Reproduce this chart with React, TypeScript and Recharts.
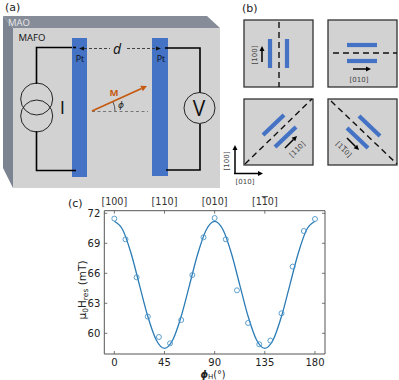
import { ComposedChart, Line, XAxis, YAxis, Label } from 'recharts'

const measuredPhi = [0, 10, 20, 30, 40, 50, 60, 70, 80, 90, 100, 110, 120, 130, 140, 150, 160, 170, 180]
const measuredField = [71.47, 69.4, 65.6, 61.67, 59.63, 59.0, 61.33, 65.83, 69.6, 71.53, 69.4, 64.3, 61.03, 58.9, 59.27, 62.0, 66.67, 70.23, 71.43]

// fit curve
const fitPhi = [0, 7.5, 15, 22.5, 30, 37.5, 45, 52.5, 60, 67.5, 75, 82.5, 90, 97.5, 105, 112.5, 120, 127.5, 135, 142.5, 150, 157.5, 165, 172.5, 180]
const fitField = [71.2, 70.35, 68.0, 64.85, 61.7, 59.35, 58.5, 59.35, 61.7, 64.85, 68.0, 70.35, 71.2, 70.35, 68.0, 64.85, 61.7, 59.35, 58.5, 59.35, 61.7, 64.85, 68.0, 70.35, 71.2]

const xTicks = [0, 45, 90, 135, 180]
const yTicks = [60, 63, 66, 69, 72]
const topTicks = [0, 45, 90, 135]
const topLabels = ['[100]', '[110]', '[010]', '[110]']

const measured = measuredPhi.map((phi, i) => ({ phi, field: measuredField[i] }))
const fit = fitPhi.map((phi, i) => ({ phi, field: fitField[i] }))

const FONT = "'DejaVu Sans', sans-serif"
const SANS = "'Open Sans', sans-serif"
const FRAME = '#555'
const BLUE = '#4472c4'
const PANEL = '#d2d2d2'

function BottomTick({ x, y, payload }: any) {
  return (
    <g>
      <line x1={x} x2={x} y1={y} y2={y - 3} stroke={FRAME} strokeWidth={0.8} />
      <text x={x} y={y + 11.5} textAnchor="middle" fontSize={10} fontFamily={FONT} fill="#222">{payload.value}</text>
    </g>
  )
}

function LeftTick({ x, y, payload }: any) {
  return (
    <g>
      <line x1={x} x2={x + 3} y1={y} y2={y} stroke={FRAME} strokeWidth={0.8} />
      <text x={x - 4} y={y + 3.6} textAnchor="end" fontSize={10} fontFamily={FONT} fill="#222">{payload.value}</text>
    </g>
  )
}

function RightTick({ x, y }: any) {
  return <line x1={x} x2={x - 3} y1={y} y2={y} stroke={FRAME} strokeWidth={0.8} />
}

function TopTick({ x, y, payload, index }: any) {
  const label = topLabels[index]
  return (
    <g>
      <line x1={x} x2={x} y1={y} y2={y + 3} stroke={FRAME} strokeWidth={0.8} />
      <text x={x} y={y - 5.5} textAnchor="middle" fontSize={9.6} fontFamily={FONT} fill="#333">
        {payload.value === 135 ? (
          <>[1<tspan textDecoration="overline">1</tspan>0]</>
        ) : label}
      </text>
    </g>
  )
}

function YLabel() {
  return (
    <text transform="translate(85.5 290) rotate(-90)" textAnchor="middle" fontSize={10.5} fontFamily={FONT} fill="#222">
      μ<tspan fontSize={7.5} dy={2}>0</tspan><tspan dy={-2}>H</tspan><tspan fontSize={7.5} dy={2}>res</tspan><tspan dy={-2}> (mT)</tspan>
    </text>
  )
}

function XLabel() {
  return (
    <text x={213} y={377.5} textAnchor="middle" fontSize={9.6} fontFamily={FONT} fill="#222">
      <tspan fontStyle="italic" fontWeight="bold">ϕ</tspan><tspan fontSize={7} dy={1.5}>H</tspan><tspan dy={-1.5}>(°)</tspan>
    </text>
  )
}

function Arrow({ x1, y1, x2, y2, color = '#000', w = 1.5, head = 5 }: any) {
  const a = Math.atan2(y2 - y1, x2 - x1)
  const bx = x2 - head * Math.cos(a)
  const by = y2 - head * Math.sin(a)
  const px = (head / 2) * -Math.sin(a)
  const py = (head / 2) * Math.cos(a)
  return (
    <g>
      <line x1={x1} y1={y1} x2={bx} y2={by} stroke={color} strokeWidth={w} />
      <polygon points={`${x2},${y2} ${bx + px},${by + py} ${bx - px},${by - py}`} fill={color} />
    </g>
  )
}

function Bar({ x1, y1, x2, y2 }: any) {
  return <line x1={x1} y1={y1} x2={x2} y2={y2} stroke={BLUE} strokeWidth={4.2} />
}

function Dash({ x1, y1, x2, y2 }: any) {
  return <line x1={x1} y1={y1} x2={x2} y2={y2} stroke="#111" strokeWidth={1.4} strokeDasharray="6 4" />
}

function Small({ x, y, rotate = 0, children }: any) {
  return (
    <text transform={`translate(${x} ${y}) rotate(${rotate})`} textAnchor="middle" fontSize={7} fontFamily={FONT} fill="#444">
      {children}
    </text>
  )
}

function Schematic() {
  return (
    <svg width={399} height={380} style={{ position: 'absolute', left: 0, top: 0 }}>
      <text x={5} y={10.5} fontSize={11} fontFamily={FONT} fill="#222">(a)</text>
      <text x={242} y={12} fontSize={11} fontFamily={FONT} fill="#222">(b)</text>
      <text x={68} y={207} fontSize={11} fontFamily={FONT} fill="#222">(c)</text>

      {/* film stack */}
      <polygon points="3,16 207,16 220,28 13,28" fill="#868c98" />
      <polygon points="3,16 13,28 13,188 3,168" fill="#7b8490" />
      <rect x={13} y={28} width={207} height={160} fill={PANEL} />
      <text x={8} y={25.5} fontSize={9.5} fontFamily={SANS} fill="#e8e8e8">MAO</text>
      <text x={18.5} y={41} fontSize={9.5} fontFamily={SANS} fill="#111">MAFO</text>

      {/* wires */}
      <polyline points="73,47.5 36.5,47.5 36.5,84" fill="none" stroke="#000" strokeWidth={1.6} />
      <polyline points="36.5,131 36.5,170.5 75,170.5" fill="none" stroke="#000" strokeWidth={1.6} />
      <polyline points="165,48 200,48 200,93" fill="none" stroke="#000" strokeWidth={1.6} />
      <polyline points="200,124 200,170 166,170" fill="none" stroke="#000" strokeWidth={1.6} />

      <rect x={72} y={38} width={15} height={139} fill={BLUE} />
      <rect x={152} y={38} width={16} height={138} fill={BLUE} />
      <line x1={73} y1={47.5} x2={76} y2={47.5} stroke="#000" strokeWidth={1.6} />
      <line x1={72} y1={170.5} x2={76} y2={170.5} stroke="#000" strokeWidth={1.6} />
      <line x1={165} y1={48} x2={168} y2={48} stroke="#000" strokeWidth={1.6} />
      <line x1={166} y1={170} x2={168} y2={170} stroke="#000" strokeWidth={1.6} />

      <circle cx={36.7} cy={99} r={16} fill="none" stroke="#111" strokeWidth={0.9} />
      <circle cx={36.7} cy={116} r={16} fill="none" stroke="#111" strokeWidth={0.9} />
      <circle cx={199.5} cy={108} r={15.5} fill="none" stroke="#111" strokeWidth={0.9} />
      <text x={62.5} y={113.5} textAnchor="middle" fontSize={19} fontFamily={SANS} fill="#111">I</text>
      <text x={199} y={116} textAnchor="middle" fontSize={21} fontFamily={SANS} fill="#111">V</text>

      <text x={80} y={62} textAnchor="middle" fontSize={9} fontFamily={SANS} fill="#111">Pt</text>
      <text x={161} y={62} textAnchor="middle" fontSize={9} fontFamily={SANS} fill="#111">Pt</text>
      <text x={117} y={54} textAnchor="middle" fontSize={14} fontStyle="italic" fontFamily={SANS} fill="#111">d</text>
      <line x1={84} y1={48.5} x2={110} y2={48.5} stroke="#333" strokeWidth={0.9} strokeDasharray="3 2" />
      <polygon points="79,48.5 84,46.5 84,50.5" fill="#111" />
      <line x1={127} y1={48.5} x2={157} y2={48.5} stroke="#333" strokeWidth={0.9} strokeDasharray="3 2" />
      <polygon points="161,48.5 156,46.5 156,50.5" fill="#111" />

      <line x1={92} y1={111.5} x2={148} y2={111.5} stroke="#777" strokeWidth={1} strokeDasharray="3 2.5" />
      <Arrow x1={92} y1={111} x2={147} y2={86} color="#c55a11" w={1.8} head={6} />
      <text x={114} y={96} textAnchor="middle" fontSize={9.5} fontWeight="bold" fontFamily={SANS} fill="#c55a11">M</text>
      <text x={121} y={108} textAnchor="middle" fontSize={9} fontStyle="italic" fontFamily={FONT} fill="#222">ϕ</text>
      <path d="M113,102 A 21 21 0 0 1 115,111" fill="none" stroke="#333" strokeWidth={0.8} />

      {/* crystal direction boxes */}
      <rect x={244} y={20} width={69} height={67} fill={PANEL} stroke="#333" strokeWidth={1.3} />
      <rect x={328} y={20} width={69} height={67} fill={PANEL} stroke="#333" strokeWidth={1.3} />
      <rect x={244} y={99} width={69} height={66} fill={PANEL} stroke="#333" strokeWidth={1.3} />
      <rect x={328} y={99} width={69} height={66} fill={PANEL} stroke="#333" strokeWidth={1.3} />

      <Dash x1={279} y1={22} x2={279} y2={87} />
      <Bar x1={270} y1={39} x2={270} y2={68} />
      <Bar x1={287} y1={39} x2={287} y2={68} />
      <Arrow x1={262} y1={62} x2={262} y2={46} />
      <Small x={256.5} y={55} rotate={-90}>[100]</Small>

      <Dash x1={333} y1={53} x2={397} y2={53} />
      <Bar x1={347} y1={45} x2={377} y2={45} />
      <Bar x1={347} y1={61} x2={377} y2={61} />
      <Arrow x1={353} y1={69} x2={371} y2={69} />
      <Small x={359} y={82}>[010]</Small>

      <Dash x1={245} y1={164} x2={312} y2={99} />
      <Bar x1={263} y1={135} x2={284} y2={115} />
      <Bar x1={275} y1={147} x2={296} y2={127} />
      <Arrow x1={285} y1={148} x2={297} y2={136} />
      <Small x={299} y={151} rotate={-45}>[110]</Small>

      <Dash x1={331} y1={101} x2={397} y2={164} />
      <Bar x1={359} y1={116} x2={380} y2={136} />
      <Bar x1={347} y1={128} x2={368} y2={148} />
      <Arrow x1={347} y1={138} x2={359} y2={150} />
      <Small x={342} y={151} rotate={45}>[1<tspan textDecoration="overline">1</tspan>0]</Small>

      {/* lab axes */}
      <Arrow x1={235} y1={174} x2={235} y2={145} />
      <Arrow x1={234} y1={173.5} x2={263} y2={173.5} />
      <Small x={228.5} y={161} rotate={-90}>[100]</Small>
      <Small x={245} y={184}>[010]</Small>
    </svg>
  )
}

export default function App() {
  return (
    <div style={{ position: 'absolute', left: 0, top: 0, width: 399, height: 380, background: '#fff' }}>
      <Schematic />
      <div style={{ position: 'absolute', left: 0, top: 0 }}>
        <ComposedChart width={399} height={380} margin={{ top: 190.7, right: 64, bottom: 0, left: 64.3 }}>
          <XAxis xAxisId="bottom" type="number" dataKey="phi" domain={[-9, 189]} ticks={xTicks} height={26}
            tick={BottomTick} tickSize={0} tickMargin={0} tickLine={false} stroke={FRAME} allowDataOverflow interval={0}>
            <Label content={XLabel} />
          </XAxis>
          <XAxis xAxisId="top" orientation="top" type="number" dataKey="phi" domain={[-9, 189]} ticks={topTicks} height={20}
            tick={TopTick} tickSize={0} tickMargin={0} tickLine={false} stroke={FRAME} allowDataOverflow interval={0} />
          <YAxis yAxisId="left" type="number" domain={[57.93, 72.26]} ticks={yTicks} width={40}
            tick={LeftTick} tickSize={0} tickMargin={0} tickLine={false} stroke={FRAME} allowDataOverflow interval={0}>
            <Label content={YLabel} />
          </YAxis>
          <YAxis yAxisId="right" orientation="right" type="number" domain={[57.93, 72.26]} ticks={yTicks} width={10}
            tick={RightTick} tickSize={0} tickMargin={0} tickLine={false} stroke={FRAME} allowDataOverflow interval={0} />
          <Line xAxisId="bottom" yAxisId="left" data={fit} dataKey="field" type="monotone" stroke="#2b7cb6" strokeWidth={1.3}
            dot={false} activeDot={false} isAnimationActive={false} />
          <Line xAxisId="bottom" yAxisId="left" data={measured} dataKey="field" stroke="none"
            dot={{ r: 2.5, fill: 'none', stroke: '#4a94c8', strokeWidth: 0.9 }} activeDot={false} isAnimationActive={false} />
        </ComposedChart>
      </div>
    </div>
  )
}
